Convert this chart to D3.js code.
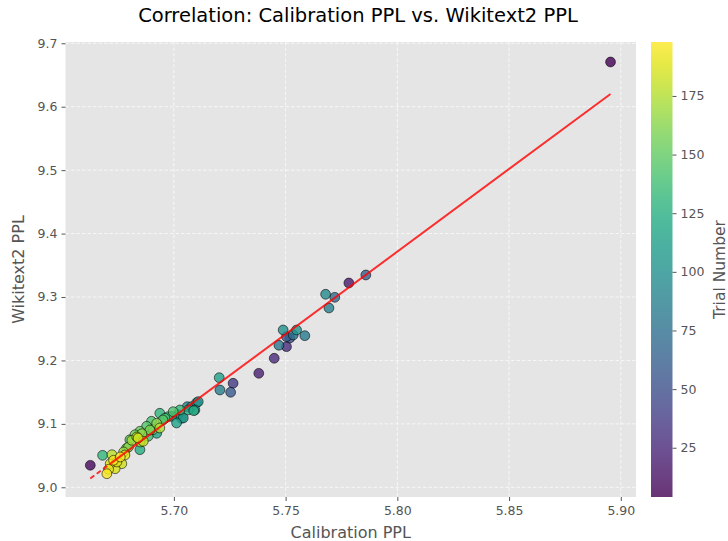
<!DOCTYPE html>
<html>
<head>
<meta charset="utf-8">
<script src="https://cdn.jsdelivr.net/npm/d3@7"></script>
<style>
  html, body { margin: 0; padding: 0; background: #fff; }
  svg { display: block; font-family: "DejaVu Sans", sans-serif; }
</style>
</head>
<body>
<svg id="chart" width="728" height="541"></svg>
<script>
(function(){
'use strict';

// --- data ---
var calibPPL = [
    5.8954, 5.7859, 5.7783, 5.7679, 5.7720, 5.7694, 5.7489, 5.7549, 5.7586, 5.7504,
    5.7534, 5.7470, 5.7504, 5.7519, 5.7449, 5.7380, 5.7265, 5.7254, 5.7206, 5.7203,
    5.6626, 5.6681, 5.6700, 5.6708, 5.6715, 5.6723, 5.6730, 5.6737, 5.6745, 5.6760,
    5.6767, 5.6775, 5.6781, 5.6788, 5.6797, 5.6803, 5.6812, 5.6826, 5.6834, 5.6840,
    5.6848, 5.6848, 5.6849, 5.6857, 5.6863, 5.6878, 5.6885, 5.6893, 5.6900, 5.6907,
    5.6923, 5.6923, 5.6937, 5.6937, 5.6951, 5.6960, 5.6974, 5.6990, 5.6997, 5.7012,
    5.7019, 5.7027, 5.7034, 5.7042, 5.7064, 5.7079, 5.7094, 5.7089, 5.7102, 5.7109,
    5.7060
];
var wikiPPL = [
    9.6705, 9.3347, 9.3221, 9.3043, 9.2995, 9.2827, 9.2480, 9.2480, 9.2390, 9.2374,
    9.2401, 9.2239, 9.2217, 9.2354, 9.2034, 9.1797, 9.1640, 9.1498, 9.1534, 9.1728,
    9.0347, 9.0504, 9.0214, 9.0284, 9.0372, 9.0514, 9.0426, 9.0293, 9.0399, 9.0478,
    9.0372, 9.0557, 9.0509, 9.0615, 9.0635, 9.0750, 9.0741, 9.0829, 9.0793, 9.0777,
    9.0883, 9.0593, 9.0714, 9.0845, 9.0725, 9.0962, 9.0804, 9.0903, 9.1041, 9.0908,
    9.1009, 9.0851, 9.1167, 9.0935, 9.1061, 9.1088, 9.1113, 9.1119, 9.1192, 9.1014,
    9.1145, 9.1219, 9.1088, 9.1093, 9.1219, 9.1271, 9.1219, 9.1208, 9.1334, 9.1350,
    9.1271
];
var trialNum = [
    4, 62, 18, 96, 72, 88, 100, 104, 84, 60,
    78, 82, 28, 45, 26, 20, 36, 58, 86, 114,
    8, 132, 196, 192, 188, 178, 194, 186, 190, 198,
    183, 168, 189, 158, 162, 148, 172, 155, 176, 184,
    152, 124, 170, 166, 180, 145, 138, 160, 142, 150,
    164, 118, 130, 175, 146, 140, 136, 108, 144, 116,
    102, 134, 92, 110, 120, 98, 110, 122, 100, 105,
    94
];
var xTicks = [5.70, 5.75, 5.80, 5.85, 5.90];
var yTicks = [9.0, 9.1, 9.2, 9.3, 9.4, 9.5, 9.6, 9.7];
var cTicks = [25, 50, 75, 100, 125, 150, 175];

var svg = d3.select('#chart');
var plot = { left: 65.5, right: 636, top: 42, bottom: 497 };
var cbar = { left: 651, right: 672.5 };
var tickColor = '#555555';

var x = d3.scaleLinear().domain([5.6515, 5.9068]).range([plot.left, plot.right]);
var y = d3.scaleLinear().domain([8.9847, 9.702]).range([plot.bottom, plot.top]);
var cExtent = d3.extent(trialNum);
var color = d3.scaleSequential(d3.interpolateViridis).domain(cExtent);
var cy = d3.scaleLinear().domain(cExtent).range([plot.bottom, plot.top]);

var points = calibPPL.map(function(v, i){
    return { x: v, y: wikiPPL[i], t: trialNum[i] };
});
points.sort(function(a, b){ return a.t - b.t; });

// background + grid
svg.append('rect')
    .attr('x', plot.left).attr('y', plot.top)
    .attr('width', plot.right - plot.left)
    .attr('height', plot.bottom - plot.top)
    .attr('fill', '#e5e5e5');

var grid = svg.append('g').attr('stroke', '#ffffff').attr('stroke-width', 0.9)
    .attr('stroke-dasharray', '3.5,2').attr('opacity', 0.8);
grid.selectAll('line.gx').data(xTicks).enter().append('line')
    .attr('x1', x).attr('x2', x).attr('y1', plot.top).attr('y2', plot.bottom);
grid.selectAll('line.gy').data(yTicks).enter().append('line')
    .attr('y1', y).attr('y2', y).attr('x1', plot.left).attr('x2', plot.right);

// axes
var xAxis = svg.append('g')
    .attr('transform', 'translate(0,' + plot.bottom + ')')
    .call(d3.axisBottom(x).tickValues(xTicks).tickFormat(d3.format('.2f'))
        .tickSize(4).tickPadding(5));
var yAxis = svg.append('g')
    .attr('transform', 'translate(' + plot.left + ',0)')
    .call(d3.axisLeft(y).tickValues(yTicks).tickFormat(d3.format('.1f'))
        .tickSize(4).tickPadding(4));
[xAxis, yAxis].forEach(function(a){
    a.select('.domain').remove();
    a.selectAll('line').attr('stroke', tickColor);
    a.selectAll('text').attr('fill', tickColor)
        .attr('font-size', '12.5px').attr('font-family', 'DejaVu Sans');
});

// scatter
svg.append('g').selectAll('circle').data(points).enter().append('circle')
    .attr('cx', function(d){ return x(d.x); })
    .attr('cy', function(d){ return y(d.y); })
    .attr('r', 4.9)
    .attr('fill', function(d){ return color(d.t); })
    .attr('fill-opacity', 0.8)
    .attr('stroke', '#000')
    .attr('stroke-opacity', 0.7)
    .attr('stroke-width', 0.8);

// least squares fit
var mx = d3.mean(points, function(d){ return d.x; });
var my = d3.mean(points, function(d){ return d.y; });
var sxy = d3.sum(points, function(d){ return (d.x - mx) * (d.y - my); });
var sxx = d3.sum(points, function(d){ return (d.x - mx) * (d.x - mx); });
var slope = sxy / sxx, icept = my - slope * mx;
var xr = d3.extent(calibPPL);

var fitLine = d3.line()
    .x(function(d){ return x(d); })
    .y(function(d){ return y(slope * d + icept); });
// short dashed lead-in at the low end, solid after (overlapping passes)
var xSplit = xr[0] + (xr[1] - xr[0]) * 0.04;
svg.append('path')
    .datum([xr[0], xSplit])
    .attr('d', fitLine)
    .attr('fill', 'none')
    .attr('stroke', '#ff0000')
    .attr('stroke-opacity', 0.8)
    .attr('stroke-width', 2)
    .attr('stroke-dasharray', '5,3');
svg.append('path')
    .datum([xSplit, xr[1]])
    .attr('d', fitLine)
    .attr('fill', 'none')
    .attr('stroke', '#ff0000')
    .attr('stroke-opacity', 0.8)
    .attr('stroke-width', 2);

// colorbar
var defs = svg.append('defs');
var grad = defs.append('linearGradient').attr('id', 'vir')
    .attr('x1', 0).attr('y1', 1).attr('x2', 0).attr('y2', 0);
d3.range(0, 1.0001, 0.05).forEach(function(s){
    grad.append('stop').attr('offset', s)
        .attr('stop-color', d3.interpolateViridis(s));
});
svg.append('rect')
    .attr('x', cbar.left).attr('y', plot.top)
    .attr('width', cbar.right - cbar.left)
    .attr('height', plot.bottom - plot.top)
    .attr('fill', 'url(#vir)')
    .attr('opacity', 0.8);
var cAxis = svg.append('g')
    .attr('transform', 'translate(' + cbar.right + ',0)')
    .call(d3.axisRight(cy).tickValues(cTicks).tickSize(4).tickPadding(4));
cAxis.select('.domain').remove();
cAxis.selectAll('line').attr('stroke', tickColor);
cAxis.selectAll('text').attr('fill', tickColor)
    .attr('font-size', '12.5px').attr('font-family', 'DejaVu Sans');

// titles
svg.append('text')
    .attr('x', 358).attr('y', 22)
    .attr('text-anchor', 'middle')
    .attr('font-size', '19.5px')
    .attr('fill', '#000')
    .text('Correlation: Calibration PPL vs. Wikitext2 PPL');
svg.append('text')
    .attr('x', (plot.left + plot.right) / 2).attr('y', 538)
    .attr('text-anchor', 'middle')
    .attr('font-size', '16px')
    .attr('fill', tickColor)
    .text('Calibration PPL');
svg.append('text')
    .attr('transform', 'translate(24,' + ((plot.top + plot.bottom) / 2) + ') rotate(-90)')
    .attr('text-anchor', 'middle')
    .attr('font-size', '16px')
    .attr('fill', tickColor)
    .text('Wikitext2 PPL');
svg.append('text')
    .attr('transform', 'translate(725,' + ((plot.top + plot.bottom) / 2) + ') rotate(-90)')
    .attr('text-anchor', 'middle')
    .attr('font-size', '15.5px')
    .attr('fill', tickColor)
    .text('Trial Number');

})();
</script>
</body>
</html>
